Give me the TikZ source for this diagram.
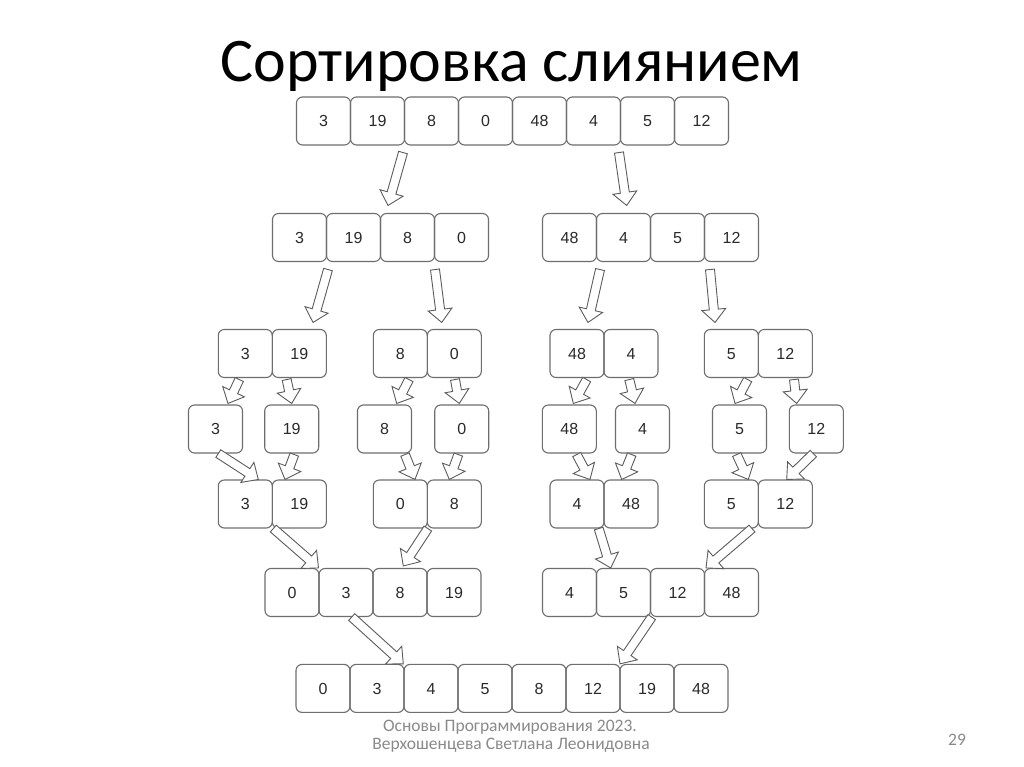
\documentclass[tikz,border=0pt]{standalone}
\usepackage{fontspec}
\setmainfont{Liberation Sans}
\newfontfamily\titlefont{Carlito}
\usetikzlibrary{calc}
\definecolor{boxline}{HTML}{6E6E6E}
\definecolor{arrline}{HTML}{5C5C5C}
\definecolor{footgray}{HTML}{8A8A8A}
\definecolor{celltext}{HTML}{2A2A2A}
\tikzset{
  cell/.style={draw=boxline, line width=1.1pt, rounded corners=6pt, minimum width=54pt, minimum height=48pt, inner sep=0pt, text height=11.5pt, text depth=0pt, font=\fontsize{16}{18}\selectfont, text=celltext},
  blockarr/.style={draw=arrline, fill=white, line width=0.9pt, line join=miter},
  foot/.style={anchor=base, font=\titlefont\fontsize{17.5}{20}\selectfont, text=footgray}
}
\newcommand{\blkarrow}[2]{%
  \path (#1) coordinate (ta) (#2) coordinate (tb);
  \path ($(tb)!13pt!(ta)$) coordinate (th);
  \filldraw[blockarr] ($(ta)!4.5pt!90:(tb)$) -- ($(th)!4.5pt!90:(tb)$) -- ($(th)!12pt!90:(tb)$) -- (tb) -- ($(th)!12pt!-90:(tb)$) -- ($(th)!4.5pt!-90:(tb)$) -- ($(ta)!4.5pt!-90:(tb)$) -- cycle;
}
\begin{document}
\begin{tikzpicture}[x=1pt,y=-1pt]
\useasboundingbox[fill=white] (0,0) rectangle (1024,767);
\node[anchor=base, font=\titlefont\fontsize{62}{70}\selectfont] (title) at (511.5,82) {Сортировка слиянием};

% row 1
\foreach \v [count=\i] in {3,19,8,0,48,4,5,12}
  \node[cell] (r1-\i) at ({323.5+54*(\i-1)},121) {\v};
% row 2
\foreach \v [count=\i] in {3,19,8,0}
  \node[cell] (r2a-\i) at ({299.5+54*(\i-1)},237.5) {\v};
\foreach \v [count=\i] in {48,4,5,12}
  \node[cell] (r2b-\i) at ({569.5+54*(\i-1)},237.5) {\v};
% row 3
\foreach \v [count=\i] in {3,19}
  \node[cell] (r3a-\i) at ({245.3+54*(\i-1)},353.5) {\v};
\foreach \v [count=\i] in {8,0}
  \node[cell] (r3b-\i) at ({400.3+54*(\i-1)},353.5) {\v};
\foreach \v [count=\i] in {48,4}
  \node[cell] (r3c-\i) at ({577+54*(\i-1)},353.5) {\v};
\foreach \v [count=\i] in {5,12}
  \node[cell] (r3d-\i) at ({731.3+54*(\i-1)},353.5) {\v};
% row 4
\foreach \v/\x [count=\i] in {3/215.5,19/291.7,8/384.5,0/461.7,48/569.3,4/642.5,5/739.5,12/816.3}
  \node[cell] (r4-\i) at (\x,429) {\v};
% row 5
\foreach \v [count=\i] in {3,19}
  \node[cell] (r5a-\i) at ({245.3+54*(\i-1)},504) {\v};
\foreach \v [count=\i] in {0,8}
  \node[cell] (r5b-\i) at ({400.3+54*(\i-1)},504) {\v};
\foreach \v [count=\i] in {4,48}
  \node[cell] (r5c-\i) at ({577+54*(\i-1)},504) {\v};
\foreach \v [count=\i] in {5,12}
  \node[cell] (r5d-\i) at ({731.3+54*(\i-1)},504) {\v};
% row 6
\foreach \v [count=\i] in {0,3,8,19}
  \node[cell] (r6a-\i) at ({292+54*(\i-1)},592.5) {\v};
\foreach \v [count=\i] in {4,5,12,48}
  \node[cell] (r6b-\i) at ({569.5+54*(\i-1)},592.5) {\v};
% row 7
\foreach \v [count=\i] in {0,3,4,5,8,12,19,48}
  \node[cell] (r7-\i) at ({323+54*(\i-1)},688.4) {\v};

% arrows row1 -> row2
\blkarrow{$(r1-2.south)+(25.5,7)$}{$(r2a-3.north)+(-19.5,-7.5)$}
\blkarrow{$(r1-6.south)+(25.5,7)$}{$(r2b-2.north)+(3.2,-7.5)$}
% row2 -> row3
\blkarrow{$(r2a-1.south)+(28.5,7.5)$}{$(r3a-2.north)+(13.7,-6.5)$}
\blkarrow{$(r2a-3.south)+(27.5,7.5)$}{$(r3b-2.north)+(-12.6,-6.5)$}
\blkarrow{$(r2b-1.south)+(30.5,7.5)$}{$(r3c-1.north)+(11,-6.5)$}
\blkarrow{$(r2b-3.south)+(32.5,7.5)$}{$(r3d-1.north)+(-16.3,-6.5)$}
% row3 -> row4
\blkarrow{$(r3a-1.south)+(-6,1.5)$}{$(r4-1.north)+(12.5,-1)$}
\blkarrow{$(r3a-2.south)+(-12.6,1.5)$}{$(r4-2.north)+(0,-1)$}
\blkarrow{$(r3b-1.south)+(8.7,1.5)$}{$(r4-3.north)+(12.2,-1)$}
\blkarrow{$(r3b-2.south)+(0.7,1.5)$}{$(r4-4.north)+(-2.4,-1)$}
\blkarrow{$(r3c-1.south)+(9.7,1.5)$}{$(r4-5.north)+(4,-1)$}
\blkarrow{$(r3c-2.south)+(-1.7,1.5)$}{$(r4-6.north)+(-7.5,-1)$}
\blkarrow{$(r3d-1.south)+(16.4,1.5)$}{$(r4-7.north)+(-4.5,-1)$}
\blkarrow{$(r3d-2.south)+(8.7,1.5)$}{$(r4-8.north)+(-19.6,-1)$}
% row4 -> row5
\blkarrow{$(r4-1.south)+(2.8,0)$}{$(r5a-1.north)+(13,0)$}
\blkarrow{$(r4-2.south)+(2.6,1)$}{$(r5a-2.north)+(-14.3,0)$}
\blkarrow{$(r4-3.south)+(20.5,1)$}{$(r5b-1.north)+(14.7,0)$}
\blkarrow{$(r4-4.south)+(-3.4,1)$}{$(r5b-2.north)+(-5,0)$}
\blkarrow{$(r4-5.south)+(7.4,1)$}{$(r5c-1.north)+(13,0)$}
\blkarrow{$(r4-6.south)+(-10.8,1)$}{$(r5c-2.north)+(-9.3,0)$}
\blkarrow{$(r4-7.south)+(-2.8,1)$}{$(r5d-1.north)+(17,0)$}
\blkarrow{$(r4-8.south)+(-3,0)$}{$(r5d-2.north)+(1.4,0)$}
% row5 -> row6
\blkarrow{$(r5a-1.south)+(28,0)$}{$(r6a-1.north)+(26.5,0)$}
\blkarrow{$(r5b-1.south)+(27.5,0)$}{$(r6a-3.north)+(3.3,-2)$}
\blkarrow{$(r5c-1.south)+(21.7,0)$}{$(r6b-2.north)+(-12.8,0)$}
\blkarrow{$(r5d-1.south)+(20.7,0)$}{$(r6b-4.north)+(-25.5,0)$}
% row6 -> row7
\blkarrow{$(r6a-2.south)+(5.7,0)$}{$(r7-2.north)+(26.3,0)$}
\blkarrow{$(r6b-3.south)+(-25.8,0)$}{$(r7-6.north)+(27,0)$}

% footer
\node[foot] (foot1) at (510,731) {Основы Программирования 2023.};
\node[foot] (foot2) at (511,749.4) {Верхошенцева Светлана Леонидовна};
\node[foot] (page) at (957,745.5) {29};
\end{tikzpicture}
\end{document}
